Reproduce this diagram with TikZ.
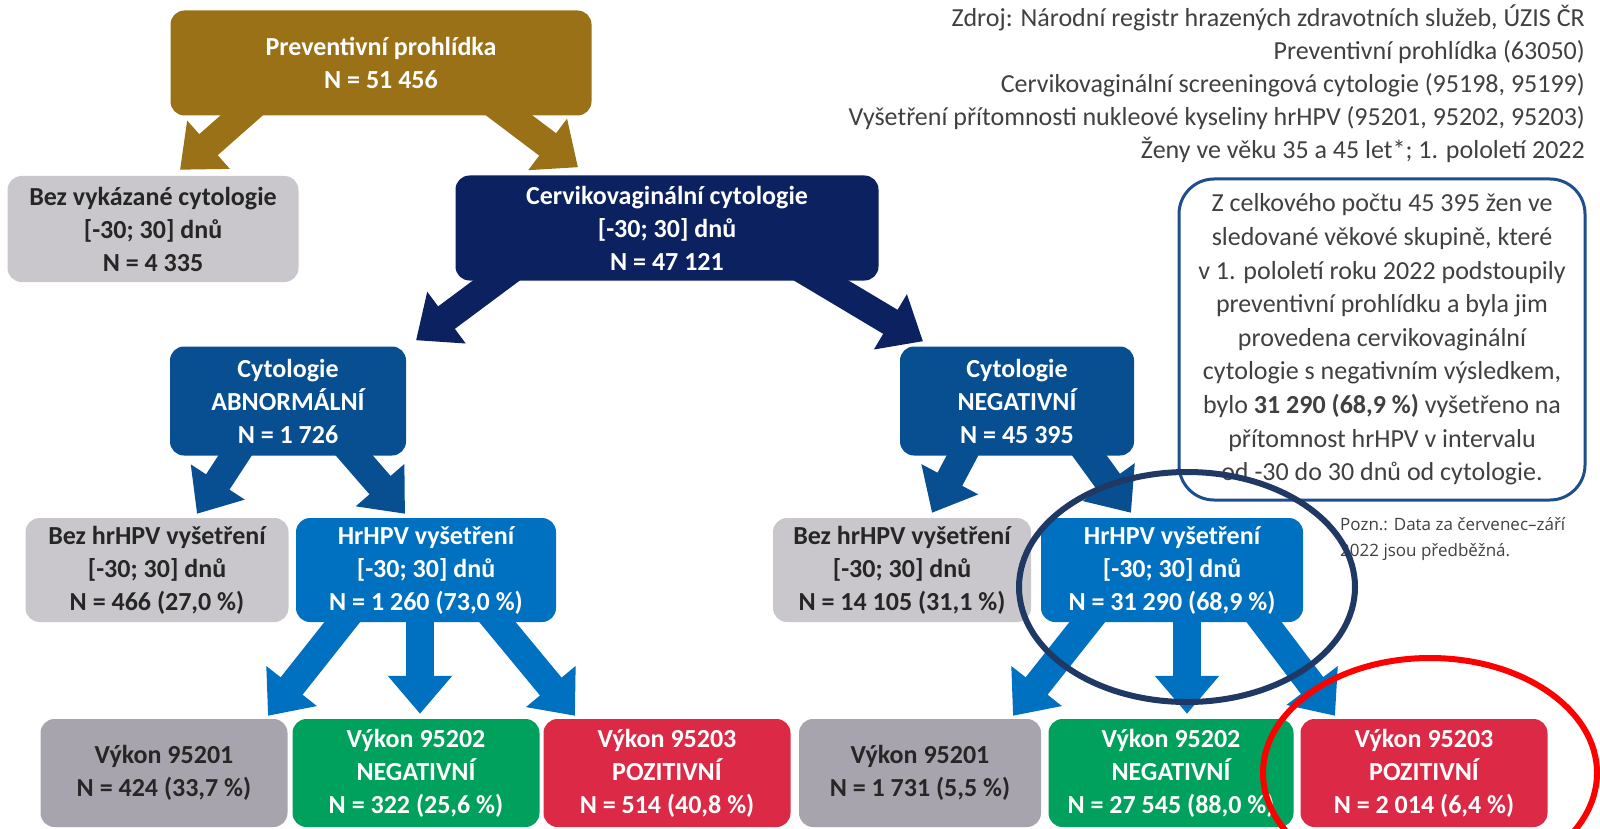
\documentclass[tikz,border=0pt]{standalone}
\usepackage{fontspec}
\setmainfont{Carlito}
\newfontfamily\noteFont{Open Sans}
\usetikzlibrary{arrows.meta,shapes.geometric}
\pgfdeclarelayer{bg}
\pgfdeclarelayer{fg}
\pgfsetlayers{bg,main,fg}
\definecolor{cGold}{HTML}{9B7117}
\definecolor{cNavy}{HTML}{0B2160}
\definecolor{cMid}{HTML}{074F90}
\definecolor{cHpv}{HTML}{0070C0}
\definecolor{cGrayA}{HTML}{C9C7CC}
\definecolor{cGrayB}{HTML}{A7A4AD}
\definecolor{cGreen}{HTML}{00A15C}
\definecolor{cRed}{HTML}{DC2A46}
\definecolor{cTxt}{HTML}{262626}
\definecolor{cSrc}{HTML}{404040}
\definecolor{cNote}{HTML}{1F4E8C}
\definecolor{cRing}{HTML}{1F3864}
\definecolor{cRingRed}{HTML}{FF0000}
\tikzset{
  box/.style={rounded corners=14pt, inner sep=0pt, align=center,
    font=\bfseries\fontsize{26}{33}\selectfont, text=white},
  greybox/.style={box, fill=cGrayA, text=cTxt},
  arr/.style={draw=#1, line width=28pt, -{Triangle[length=38pt,width=62pt]}},
  ring/.style={ellipse, draw=#1, line width=6pt, inner sep=0pt},
}
\begin{document}
\begin{tikzpicture}[x=1pt,y=-1pt]
\useasboundingbox (0,0) rectangle (1600,829);
% boxes
\node[box, fill=cGold, minimum width=421pt, minimum height=105pt] (top) at (381,63) {Preventivní prohlídka\\N = 51 456};
\node[greybox, minimum width=291pt, minimum height=106pt] (bez1) at (153,229) {Bez vykázané cytologie\\{}[-30; 30] dnů\\N = 4 335};
\node[box, fill=cNavy, minimum width=423pt, minimum height=105pt] (cyt) at (667,228) {Cervikovaginální cytologie\\{}[-30; 30] dnů\\N = 47 121};
\node[box, fill=cMid, minimum width=236pt, minimum height=109pt] (abn) at (288,401) {Cytologie\\ABNORMÁLNÍ\\N = 1 726};
\node[box, fill=cMid, minimum width=234pt, minimum height=109pt] (neg) at (1017,401) {Cytologie\\NEGATIVNÍ\\N = 45 395};
\node[greybox, minimum width=263pt, minimum height=104pt] (bezA) at (157,570) {Bez hrHPV vyšetření\\{}[-30; 30] dnů\\N = 466 (27,0 \%)};
\node[box, fill=cHpv, minimum width=260pt, minimum height=104pt] (hpvA) at (426,570) {HrHPV vyšetření\\{}[-30; 30] dnů\\N = 1 260 (73,0 \%)};
\node[greybox, minimum width=258pt, minimum height=104pt] (bezN) at (902,570) {Bez hrHPV vyšetření\\{}[-30; 30] dnů\\N = 14 105 (31,1 \%)};
\node[box, fill=cHpv, minimum width=262pt, minimum height=104pt] (hpvN) at (1172,570) {HrHPV vyšetření\\{}[-30; 30] dnů\\N = 31 290 (68,9 \%)};
\node[box, fill=cGrayB, text=cTxt, minimum width=247pt, minimum height=108pt] (v1) at (164,773) {Výkon 95201\\N = 424 (33,7 \%)};
\node[box, fill=cGreen, minimum width=247pt, minimum height=108pt] (v2) at (416,773) {Výkon 95202\\NEGATIVNÍ\\N = 322 (25,6 \%)};
\node[box, fill=cRed, minimum width=247pt, minimum height=108pt] (v3) at (667,773) {Výkon 95203\\POZITIVNÍ\\N = 514 (40,8 \%)};
\node[box, fill=cGrayB, text=cTxt, minimum width=242pt, minimum height=108pt] (w1) at (920,773) {Výkon 95201\\N = 1 731 (5,5 \%)};
\node[box, fill=cGreen, minimum width=245pt, minimum height=108pt] (w2) at (1171,773) {Výkon 95202\\NEGATIVNÍ\\N = 27 545 (88,0 \%)};
\node[box, fill=cRed, minimum width=247pt, minimum height=108pt] (w3) at (1424,773) {Výkon 95203\\POZITIVNÍ\\N = 2 014 (6,4 \%)};
% arrows behind boxes
\begin{pgfonlayer}{bg}
\draw[arr=cGold] ([xshift=-117pt,yshift=20pt]top.south) -- ([xshift=27pt,yshift=6pt]bez1.north);
\draw[arr=cGold] ([xshift=102pt,yshift=20pt]top.south) -- ([xshift=-89pt,yshift=8pt]cyt.north);
\draw[arr=cNavy] ([xshift=-144pt,yshift=20pt]cyt.south) -- ([xshift=128pt,yshift=6pt]abn.north);
\draw[arr=cNavy] ([xshift=121pt,yshift=20pt]cyt.south) -- ([xshift=-94pt,yshift=5pt]neg.north);
\draw[arr=cMid] ([xshift=-40pt,yshift=20pt]abn.south) -- ([xshift=40pt,yshift=4pt]bezA.north);
\draw[arr=cMid] ([xshift=49pt,yshift=20pt]abn.south) -- ([xshift=-21pt,yshift=4pt]hpvA.north);
\draw[arr=cMid] ([xshift=-44pt,yshift=20pt]neg.south) -- ([xshift=30pt,yshift=5pt]bezN.north);
\draw[arr=cMid] ([xshift=58pt,yshift=20pt]neg.south) -- ([xshift=-41pt,yshift=5pt]hpvN.north);
\draw[arr=cHpv] ([xshift=-68pt,yshift=20pt]hpvA.south) -- ([xshift=104pt,yshift=3pt]v1.north);
\draw[arr=cHpv] ([xshift=-6pt,yshift=20pt]hpvA.south) -- ([xshift=4pt,yshift=5pt]v2.north);
\draw[arr=cHpv] ([xshift=55pt,yshift=20pt]hpvA.south) -- ([xshift=-92pt,yshift=3pt]v3.north);
\draw[arr=cHpv] ([xshift=-69pt,yshift=20pt]hpvN.south) -- ([xshift=93pt,yshift=3pt]w1.north);
\draw[arr=cHpv] ([xshift=15pt,yshift=20pt]hpvN.south) -- ([xshift=16pt,yshift=5pt]w2.north);
\draw[arr=cHpv] ([xshift=77pt,yshift=20pt]hpvN.south) -- ([xshift=-89pt,yshift=3pt]w3.north);
\end{pgfonlayer}
% source text
\node[anchor=east, align=right, inner sep=0pt, text=cSrc, font=\fontsize{26}{33}\selectfont] (src) at (1585,84)
 {Zdroj: Národní registr hrazených zdravotních služeb, ÚZIS ČR\\
  Preventivní prohlídka (63050)\\
  Cervikovaginální screeningová cytologie (95198, 95199)\\
  Vyšetření přítomnosti nukleové kyseliny hrHPV (95201, 95202, 95203)\\
  Ženy ve věku 35 a 45 let*; 1. pololetí 2022};
% note box
\node[draw=cNote, line width=3pt, rounded corners=35pt, minimum width=406pt, minimum height=321pt,
  align=center, inner sep=0pt, text=cSrc, font=\fontsize{26}{33.6}\selectfont] (note) at (1382,339.5)
 {Z celkového počtu 45 395 žen ve\\
  sledované věkové skupině, které\\
  v 1. pololetí roku 2022 podstoupily\\
  preventivní prohlídku a byla jim\\
  provedena cervikovaginální\\
  cytologie s negativním výsledkem,\\
  bylo \textbf{31 290 (68,9 \%)} vyšetřeno na\\
  přítomnost hrHPV v intervalu\\
  od -30 do 30 dnů od cytologie.};
\node[anchor=north west, align=left, inner sep=0pt, text=cSrc, font=\noteFont\fontsize{17}{26}\selectfont] (pozn) at (1340,517)
 {Pozn.: Data za červenec–září\\2022 jsou předběžná.};
% rings
\begin{pgfonlayer}{fg}
\node[ring=cRing, minimum width=336pt, minimum height=230pt] (ring1) at (1187,587) {};
\begin{scope}
\clip (0,0) rectangle (1600,829);
\node[ring=cRingRed, minimum width=334pt, minimum height=230pt] (ring2) at (1430,773) {};
\end{scope}
\end{pgfonlayer}
\end{tikzpicture}
\end{document}
